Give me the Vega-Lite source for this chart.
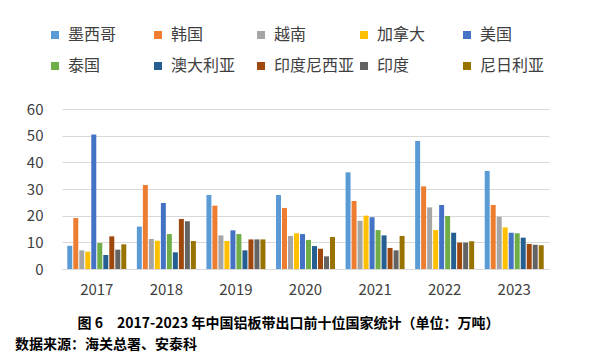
{
  "$schema": "https://vega.github.io/schema/vega-lite/v6.json",
  "autosize": {"type": "none"},
  "width": 487,
  "height": 160,
  "padding": {"left": 62, "top": 109, "right": 43, "bottom": 91},
  "background": "white",
  "config": {
    "view": {"stroke": null},
    "font": "Noto Sans CJK SC"
  },
  "title": {
    "text": "数据来源：海关总署、安泰科",
    "orient": "bottom",
    "anchor": "start",
    "frame": "group",
    "dx": -47,
    "offset": 8,
    "fontSize": 14,
    "fontWeight": "bold",
    "color": "#000000",
    "font": "Noto Sans CJK SC"
  },
  "data": {
    "values": [
      {"year": "2017", "country": "墨西哥", "value": 8.7},
      {"year": "2017", "country": "韩国", "value": 19.1},
      {"year": "2017", "country": "越南", "value": 7.0},
      {"year": "2017", "country": "加拿大", "value": 6.5},
      {"year": "2017", "country": "美国", "value": 50.4},
      {"year": "2017", "country": "泰国", "value": 9.75},
      {"year": "2017", "country": "澳大利亚", "value": 5.25},
      {"year": "2017", "country": "印度尼西亚", "value": 12.25},
      {"year": "2017", "country": "印度", "value": 7.25},
      {"year": "2017", "country": "尼日利亚", "value": 9.25},
      {"year": "2018", "country": "墨西哥", "value": 15.9},
      {"year": "2018", "country": "韩国", "value": 31.5},
      {"year": "2018", "country": "越南", "value": 11.25},
      {"year": "2018", "country": "加拿大", "value": 10.6},
      {"year": "2018", "country": "美国", "value": 24.75},
      {"year": "2018", "country": "泰国", "value": 13.1},
      {"year": "2018", "country": "澳大利亚", "value": 6.25},
      {"year": "2018", "country": "印度尼西亚", "value": 18.75},
      {"year": "2018", "country": "印度", "value": 17.9},
      {"year": "2018", "country": "尼日利亚", "value": 10.5},
      {"year": "2019", "country": "墨西哥", "value": 27.75},
      {"year": "2019", "country": "韩国", "value": 23.75},
      {"year": "2019", "country": "越南", "value": 12.6},
      {"year": "2019", "country": "加拿大", "value": 10.5},
      {"year": "2019", "country": "美国", "value": 14.5},
      {"year": "2019", "country": "泰国", "value": 13.1},
      {"year": "2019", "country": "澳大利亚", "value": 7.0},
      {"year": "2019", "country": "印度尼西亚", "value": 11.1},
      {"year": "2019", "country": "印度", "value": 11.1},
      {"year": "2019", "country": "尼日利亚", "value": 11.1},
      {"year": "2020", "country": "墨西哥", "value": 27.75},
      {"year": "2020", "country": "韩国", "value": 22.9},
      {"year": "2020", "country": "越南", "value": 12.4},
      {"year": "2020", "country": "加拿大", "value": 13.4},
      {"year": "2020", "country": "美国", "value": 13.1},
      {"year": "2020", "country": "泰国", "value": 10.9},
      {"year": "2020", "country": "澳大利亚", "value": 8.6},
      {"year": "2020", "country": "印度尼西亚", "value": 7.6},
      {"year": "2020", "country": "印度", "value": 4.75},
      {"year": "2020", "country": "尼日利亚", "value": 12.0},
      {"year": "2021", "country": "墨西哥", "value": 36.25},
      {"year": "2021", "country": "韩国", "value": 25.5},
      {"year": "2021", "country": "越南", "value": 18.1},
      {"year": "2021", "country": "加拿大", "value": 20.0},
      {"year": "2021", "country": "美国", "value": 19.4},
      {"year": "2021", "country": "泰国", "value": 14.6},
      {"year": "2021", "country": "澳大利亚", "value": 12.6},
      {"year": "2021", "country": "印度尼西亚", "value": 7.9},
      {"year": "2021", "country": "印度", "value": 7.0},
      {"year": "2021", "country": "尼日利亚", "value": 12.4},
      {"year": "2022", "country": "墨西哥", "value": 48.0},
      {"year": "2022", "country": "韩国", "value": 31.0},
      {"year": "2022", "country": "越南", "value": 23.1},
      {"year": "2022", "country": "加拿大", "value": 14.6},
      {"year": "2022", "country": "美国", "value": 24.0},
      {"year": "2022", "country": "泰国", "value": 19.9},
      {"year": "2022", "country": "澳大利亚", "value": 13.6},
      {"year": "2022", "country": "印度尼西亚", "value": 9.9},
      {"year": "2022", "country": "印度", "value": 9.9},
      {"year": "2022", "country": "尼日利亚", "value": 10.4},
      {"year": "2023", "country": "墨西哥", "value": 36.75},
      {"year": "2023", "country": "韩国", "value": 24.0},
      {"year": "2023", "country": "越南", "value": 19.6},
      {"year": "2023", "country": "加拿大", "value": 15.6},
      {"year": "2023", "country": "美国", "value": 13.6},
      {"year": "2023", "country": "泰国", "value": 13.4},
      {"year": "2023", "country": "澳大利亚", "value": 11.75},
      {"year": "2023", "country": "印度尼西亚", "value": 9.4},
      {"year": "2023", "country": "印度", "value": 9.1},
      {"year": "2023", "country": "尼日利亚", "value": 8.9}
    ]
  },
  "mark": {"type": "bar"},
  "encoding": {
    "x": {
      "field": "year",
      "type": "nominal",
      "scale": {"paddingInner": 0, "paddingOuter": 0},
      "axis": {
        "title": "图 6　2017-2023 年中国铝板带出口前十位国家统计（单位：万吨）",
        "titleFont": "Noto Sans CJK SC",
        "titleFontSize": 14,
        "titleFontWeight": "bold",
        "titleColor": "#000000",
        "titleX": 226,
        "titleY": 54,
        "titleAlign": "center",
        "titleBaseline": "middle",
        "labelAngle": 0,
        "labelFontSize": 15,
        "labelColor": "#404040",
        "labelPadding": 13,
        "ticks": false,
        "domainColor": "#D9D9D9",
        "domainWidth": 1
      }
    },
    "xOffset": {
      "field": "country",
      "type": "nominal",
      "sort": ["墨西哥", "韩国", "越南", "加拿大", "美国", "泰国", "澳大利亚", "印度尼西亚", "印度", "尼日利亚"],
      "scale": {"paddingInner": 0.17, "paddingOuter": 0.88}
    },
    "y": {
      "field": "value",
      "type": "quantitative",
      "scale": {"domain": [0, 60], "nice": false},
      "axis": {
        "title": null,
        "values": [0, 10, 20, 30, 40, 50, 60],
        "labelFontSize": 15,
        "labelColor": "#404040",
        "labelPadding": 19,
        "ticks": false,
        "domain": false,
        "gridColor": "#D9D9D9",
        "gridWidth": 1
      }
    },
    "color": {
      "field": "country",
      "type": "nominal",
      "scale": {
        "domain": ["墨西哥", "韩国", "越南", "加拿大", "美国", "泰国", "澳大利亚", "印度尼西亚", "印度", "尼日利亚"],
        "range": ["#5B9BD5", "#ED7D31", "#A5A5A5", "#FFC000", "#4472C4", "#70AD47", "#255E91", "#9E480E", "#636363", "#997300"]
      },
      "legend": {
        "title": null,
        "orient": "none",
        "legendX": -15,
        "legendY": -82,
        "direction": "horizontal",
        "columns": 5,
        "gridAlign": "all",
        "columnPadding": 1,
        "rowPadding": 15,
        "symbolType": "square",
        "symbolSize": 64,
        "symbolStrokeWidth": 0,
        "labelFontSize": 16,
        "labelColor": "#404040",
        "labelOffset": 5,
        "labelLimit": 200,
        "padding": 0
      }
    }
  }
}
